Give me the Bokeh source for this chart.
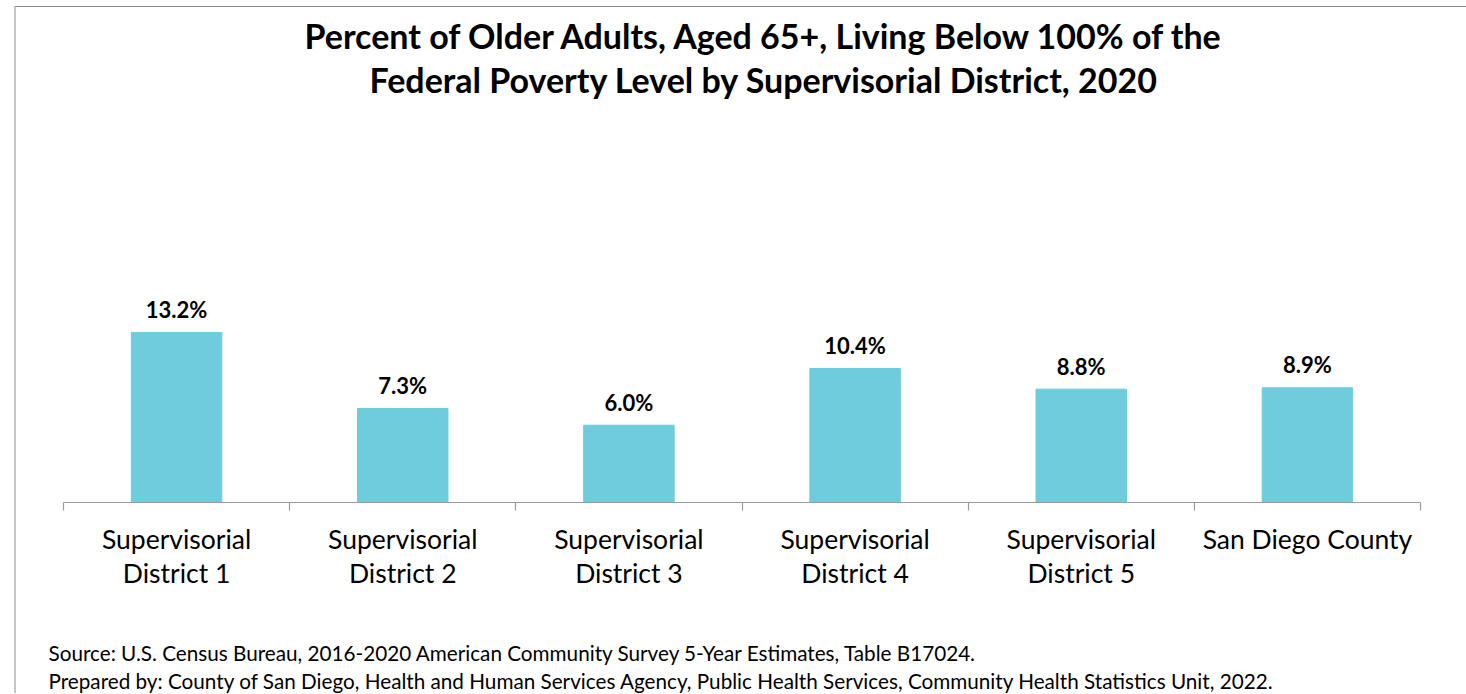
from bokeh.plotting import figure
from bokeh.layouts import column
from bokeh.models import Range1d, LinearAxis, FixedTicker, Title, ColumnDataSource
from bokeh.core.properties import value
from bokeh.embed import file_html
from bokeh.resources import INLINE

categories = [
    "Supervisorial\nDistrict 1",
    "Supervisorial\nDistrict 2",
    "Supervisorial\nDistrict 3",
    "Supervisorial\nDistrict 4",
    "Supervisorial\nDistrict 5",
    "San Diego County",
]
values = [13.2, 7.3, 6.0, 10.4, 8.8, 8.9]
value_labels = ["13.2%", "7.3%", "6.0%", "10.4%", "8.8%", "8.9%"]
title_lines = [
    "Percent of Older Adults, Aged 65+, Living Below 100% of the",
    "Federal Poverty Level by Supervisorial District, 2020",
]
source_lines = [
    "Source: U.S. Census Bureau, 2016-2020 American Community Survey 5-Year Estimates, Table B17024.",
    "Prepared by: County of San Diego, Health and Human Services Agency, Public Health Services, Community Health Statistics Unit, 2022.",
]

FONT = "Lato"
BAR = "#6ECCDC"
GRAY = "#9a9a9a"

n = len(categories)
xs = [i + 0.5 for i in range(n)]
src = ColumnDataSource(dict(x=xs, top=values, label=value_labels))

p = figure(
    width=1450, height=686,
    x_range=Range1d(0, n), y_range=Range1d(0, 31.05),
    output_backend="svg", toolbar_location=None,
    x_axis_location=None, y_axis_location=None,
    title=None,
    min_border_left=47, min_border_right=46, min_border_top=95, min_border_bottom=0,
)
p.outline_line_color = None
p.grid.visible = False
p.background_fill_color = "white"
p.border_fill_color = "white"

p.vbar(x="x", top="top", bottom=0, width=0.4, color=BAR, source=src)
p.text(x="x", y="top", text="label", source=src, text_align="center",
       text_baseline="alphabetic", y_offset=-23, text_font=value(FONT),
       text_font_size="22px", text_font_style="bold", text_color="black")

ax = LinearAxis(ticker=FixedTicker(ticks=xs, minor_ticks=list(range(n + 1))),
                major_label_overrides={x: c for x, c in zip(xs, categories)})
ax.axis_line_color = GRAY
ax.axis_line_width = 1.2
ax.major_tick_line_color = None
ax.minor_tick_line_color = GRAY
ax.minor_tick_line_width = 1.2
ax.minor_tick_out = 8
ax.minor_tick_in = 0
ax.major_label_standoff = 12
ax.major_label_text_font = FONT
ax.major_label_text_font_size = "26.5px"
ax.major_label_text_color = "black"
ax.major_label_text_line_height = 1.09
p.add_layout(ax, "below")

# blank spacer between the axis labels and the source notes
p.add_layout(Title(text=" ", text_font_size="1px", standoff=41.5), "below")
for line in source_lines:
    p.add_layout(Title(text=line, align="left", offset=-15, text_font=FONT,
                       text_font_size="20.7px", text_font_style="normal",
                       text_color="black", standoff=2), "below")

title_offsets = [241, 306]
title_standoffs = [-4.6, 6]
for line, off, so in reversed(list(zip(title_lines, title_offsets, title_standoffs))):
    p.add_layout(Title(text=line, align="left", offset=off, text_font=FONT,
                       text_font_size="34px", text_font_style="bold",
                       text_color="black", standoff=so), "above")

page = column(p, styles={"margin-left": "14px", "margin-top": "6px",
                         "border-left": "2px solid #c8c8c8", "border-top": "1px solid #8a8a8a"})

open("out.html", "w").write(file_html(page, INLINE))
